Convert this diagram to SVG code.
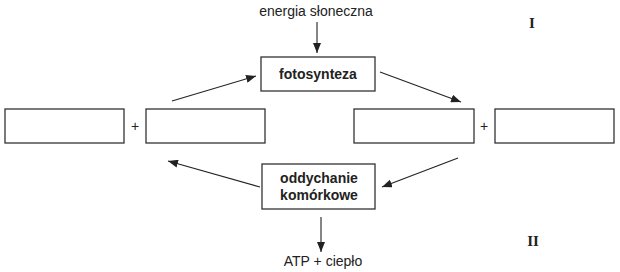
<svg xmlns="http://www.w3.org/2000/svg" width="620" height="272" viewBox="0 0 620 272">
<defs>
<marker id="ah" viewBox="0 0 10 8" refX="10" refY="4" markerWidth="10" markerHeight="8" markerUnits="userSpaceOnUse" orient="auto">
<path d="M0,0 L10,4 L0,8 Z" fill="#222"/>
</marker>
<style>
.box{fill:#fff;stroke:#333;stroke-width:1.3}
.lbl{font-family:"Liberation Sans",Arial,sans-serif;font-size:14px;fill:#222;text-anchor:middle}
.b{font-weight:bold}
.rn{font-family:"Liberation Serif","Times New Roman",serif;font-size:15px;font-weight:bold;fill:#222;text-anchor:middle}
.con{stroke:#222;stroke-width:1.1;fill:none;marker-end:url(#ah)}
</style>
</defs>
<rect width="620" height="272" fill="#fff"/>
<g id="connectors">
<line class="con" x1="317" y1="22" x2="317" y2="53"/>
<line class="con" x1="172" y1="101" x2="256" y2="76"/>
<line class="con" x1="380" y1="72" x2="461" y2="102"/>
<line class="con" x1="458" y1="158" x2="382" y2="187"/>
<line class="con" x1="260" y1="187" x2="168" y2="161"/>
<line class="con" x1="321" y1="217" x2="321" y2="252"/>
</g>
<g id="energia"><text class="lbl" x="316" y="16">energia słoneczna</text></g>
<g id="fotosynteza">
<rect class="box" x="261" y="57" width="114" height="34"/>
<text class="lbl b" x="318" y="79">fotosynteza</text>
</g>
<g id="box1"><rect class="box" x="5" y="109" width="119" height="34"/></g>
<g id="plus1"><text class="lbl" x="135" y="131">+</text></g>
<g id="box2"><rect class="box" x="146" y="109" width="119" height="34"/></g>
<g id="box3"><rect class="box" x="354" y="109" width="120" height="34"/></g>
<g id="plus2"><text class="lbl" x="484" y="131">+</text></g>
<g id="box4"><rect class="box" x="495" y="109" width="119" height="34"/></g>
<g id="oddychanie">
<rect class="box" x="262" y="164" width="113" height="45"/>
<text class="lbl b" x="319" y="183">oddychanie</text>
<text class="lbl b" x="319" y="200">komórkowe</text>
</g>
<g id="atp"><text class="lbl" x="323" y="266">ATP + ciepło</text></g>
<g id="roman1"><text class="rn" x="532" y="28">I</text></g>
<g id="roman2"><text class="rn" x="533" y="246">II</text></g>
</svg>
